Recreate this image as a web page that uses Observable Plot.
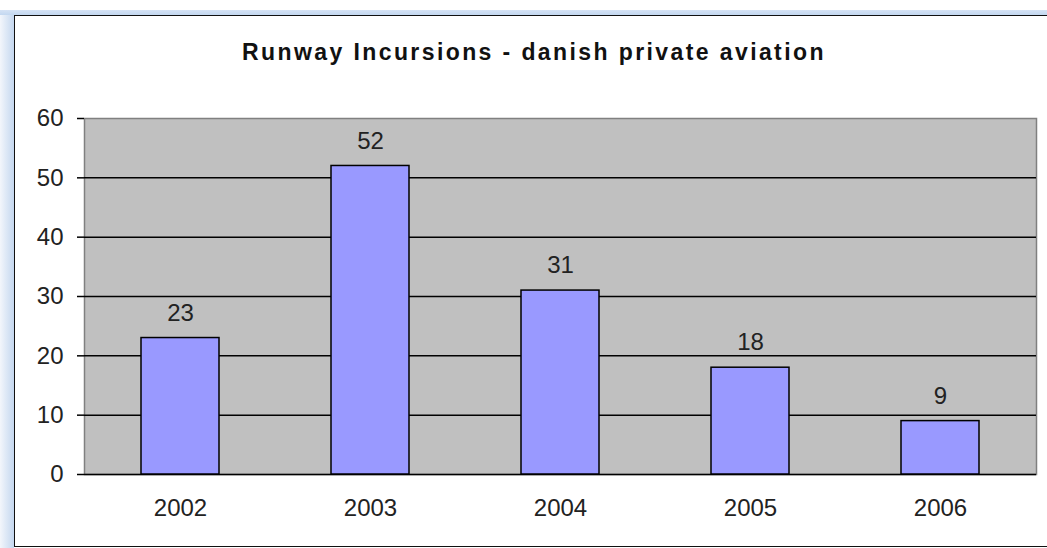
<!DOCTYPE html>
<html><head><meta charset="utf-8">
<script src="https://cdn.jsdelivr.net/npm/d3@7"></script>
<script src="https://cdn.jsdelivr.net/npm/@observablehq/plot@0.6"></script>
<style>
html,body{margin:0;padding:0;background:#fff;overflow:hidden;}
#wrap{position:relative;width:1047px;height:548px;overflow:hidden;font-family:"Liberation Sans",Arial,sans-serif;}
#stripL{position:absolute;left:0;top:10px;width:14px;height:538px;background:linear-gradient(to right,#f3f6fb 0%,#e2ebf7 35%,#c4d7ef 100%);}
#stripT{position:absolute;left:0;top:10px;width:1047px;height:5px;background:linear-gradient(to bottom,#d5e3f5,#c3d7f0);}
#box{position:absolute;left:14px;top:15px;width:1060px;height:532px;border:1.5px solid #111;background:#fff;box-sizing:border-box}
#title{position:absolute;left:14px;width:1040px;top:39px;text-align:center;font-weight:bold;font-size:23px;letter-spacing:2.4px;color:#111;white-space:nowrap}
#chart{position:absolute;left:0;top:0;width:1047px;height:548px;overflow:hidden}
#chart svg{display:block;background:none}
</style>
</head><body>
<div id="wrap">
  <div id="box"></div>
  <div id="chart"></div>
  <div id="title">Runway Incursions - danish private aviation</div>
  <div id="stripL"></div><div id="stripT"></div>
</div>
<script>
const years = ["2002", "2003", "2004", "2005", "2006"];
const incursions = [23, 52, 31, 18, 9];
const yTicks = [0, 10, 20, 30, 40, 50, 60];

const data = years.map((year, i) => ({year, value: incursions[i]}));

const boundaryTicks = (index, scales, values, dimensions) => {
  const g = d3.create("svg:g");
  const x = scales.x, y = scales.y;
  const step = x(years[1]) - x(years[0]);
  const half = (step - x.bandwidth) / 2;
  const xs = years.map(d => x(d) - half);
  xs.push(x(years[years.length - 1]) + x.bandwidth + half);
  const y0 = y(0);
  g.append("line").attr("x1", xs[0]).attr("x2", xs[0]).attr("y1", y(60)).attr("y2", y0)
    .attr("stroke", "#000").attr("stroke-width", 1.5);
  for (const xv of xs) {
    g.append("line").attr("x1", xv).attr("x2", xv).attr("y1", y0).attr("y2", y0 + 9)
      .attr("stroke", "#000").attr("stroke-width", 1.5);
  }
  return g.node();
};

const chart = Plot.plot({
  width: 1047,
  height: 548,
  marginLeft: 84,
  marginRight: 11,
  marginTop: 118,
  marginBottom: 74,
  style: {background: "none", fontFamily: "'Liberation Sans', Arial, sans-serif", color: "#222", fontSize: "24px"},
  x: {domain: years, paddingInner: 0.592, paddingOuter: 0.296, label: null},
  y: {domain: [0, 60], label: null},
  marks: [
    Plot.frame({fill: "#C0C0C0", stroke: "#808080", strokeWidth: 1.5}),
    Plot.gridY(yTicks.filter(t => t > 0 && t < 60), {stroke: "#000", strokeOpacity: 1, strokeWidth: 1.5}),
    Plot.ruleY([0], {stroke: "#000", strokeWidth: 1.5}),
    Plot.barY(data, {x: "year", y: "value", fill: "#9999FF", stroke: "#000", strokeWidth: 1.5}),
    Plot.text(data, {x: "year", y: "value", text: d => String(d.value), dy: -25, fontSize: 24, fill: "#222"}),
    Plot.axisY(yTicks, {tickSize: 7, tickPadding: 14, fontSize: 24, stroke: "#000", strokeWidth: 1.5, fill: "#222"}),
    Plot.axisX({tickSize: 0, tickPadding: 24, fontSize: 24, fill: "#222"}),
    boundaryTicks
  ]
});
document.getElementById("chart").appendChild(chart);
</script>
</body></html>
